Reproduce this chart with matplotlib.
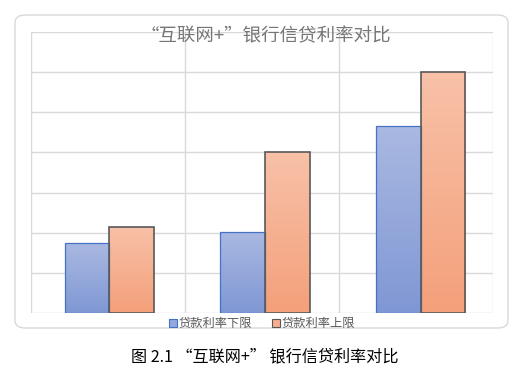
import matplotlib
matplotlib.use("Agg")
import matplotlib.pyplot as plt
import numpy as np
from matplotlib.patches import FancyBboxPatch, Rectangle
from matplotlib.colors import LinearSegmentedColormap

plt.rcParams['font.family'] = ['Noto Sans CJK SC', 'DejaVu Sans']

categories = ["A", "B", "C"]
lower_vals = [1.74, 2.03, 4.67]
upper_vals = [2.15, 4.0, 6.0]
series_names = ["贷款利率下限", "贷款利率上限"]
title = "“互联网+”银行信贷利率对比"
caption = "图 2.1 “互联网+” 银行信贷利率对比"

W, H = 529, 369
fig = plt.figure(figsize=(W / 100, H / 100), dpi=100)
fig.patch.set_facecolor("white")

# chart frame
frame = FancyBboxPatch((15 / W, 1 - 328 / H), 493 / W, 313 / H,
                       boxstyle="round,pad=0,rounding_size=0.02",
                       transform=fig.transFigure, facecolor="white",
                       edgecolor="#d9d9d9", linewidth=1.0, zorder=-5)
fig.patches.append(frame)

ax = fig.add_axes([31 / W, 1 - 313 / H, 462 / W, 281 / H])
ax.set_zorder(1)
ax.set_facecolor("none")
for s in ax.spines.values():
    s.set_visible(False)
ax.set_xticks([])
ax.set_yticks([])
for y in range(0, 8):
    ax.axhline(y, color="#d9d9d9", lw=1.0, zorder=0)
for xf in [0, 1 / 3, 2 / 3, 1]:
    ax.plot([xf, xf], [0, 1], transform=ax.transAxes, color="#d9d9d9", lw=1.0, zorder=0)

bw = 0.2865
blue_cmap = LinearSegmentedColormap.from_list("b", ["#aab9e2", "#7f97d4"])
orange_cmap = LinearSegmentedColormap.from_list("o", ["#f8c1a8", "#f4a07a"])
grad = np.linspace(0, 1, 256).reshape(-1, 1)

def draw(x0, h, cmap, edge, lw):
    rect = Rectangle((x0, 0), bw, h, facecolor="none", edgecolor=edge, lw=lw, zorder=3)
    ax.add_patch(rect)
    im = ax.imshow(grad, cmap=cmap, extent=(x0, x0 + bw, 0, h), aspect="auto",
                   origin="upper", zorder=2)
    im.set_clip_path(rect)

x = np.arange(len(categories))
for i in range(len(categories)):
    draw(x[i] - bw, lower_vals[i], blue_cmap, "#4472c4", 0.9)
    draw(x[i], upper_vals[i], orange_cmap, "#595959", 1.2)
ax.set_xlim(-0.503, 2.464)
ax.set_ylim(0, 7)

fig.text(266 / W, 1 - 36 / H, title, ha="center", va="center", fontsize=13.3, color="#767676")

# legend
lx = [169, 272]
for i, name in enumerate(series_names):
    fc = "#94a8dc" if i == 0 else "#f6ae8f"
    ec = "#4472c4" if i == 0 else "#595959"
    fig.patches.append(Rectangle((lx[i] / W, 1 - 327 / H), 8 / W, 8 / H,
                                 transform=fig.transFigure, facecolor=fc,
                                 edgecolor=ec, lw=0.8, zorder=5))
    fig.text((lx[i] + 10) / W, 1 - 323 / H, name, ha="left", va="center",
             fontsize=8.8, color="#595959")

fig.text(265 / W, 1 - 357 / H, caption, ha="center", va="center", fontsize=11.6, color="#000000")

fig.savefig("out.png", dpi=100)
